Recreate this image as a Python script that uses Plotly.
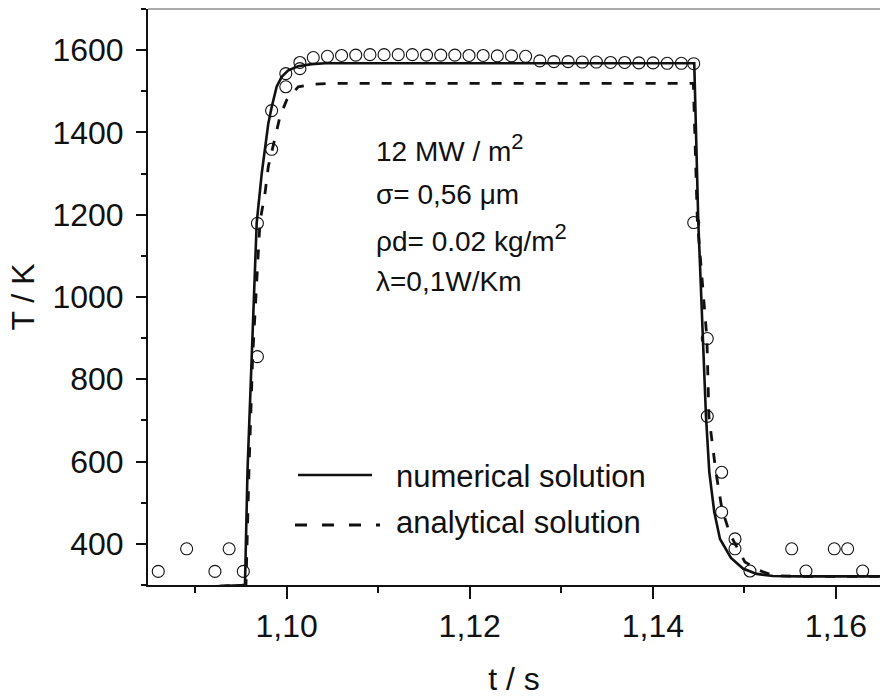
import plotly.graph_objects as go

# Numerical solution (solid curve): time in s, temperature in K
t_num = [1.0854, 1.09545, 1.09573, 1.09618, 1.09673, 1.09728, 1.09800, 1.09837,
         1.09891, 1.09946, 1.10018, 1.10127, 1.10274, 1.10419, 1.14452,
         1.14496, 1.14550, 1.14580, 1.14616, 1.14670, 1.14733, 1.14853,
         1.14984, 1.15133, 1.15311, 1.15606, 1.1660]
T_num = [290, 300, 580, 855, 1180, 1300, 1422, 1462,
         1511, 1535, 1551, 1561, 1566, 1568, 1568,
         1183, 900, 710, 575, 478, 412, 366,
         340, 327, 322, 321, 321]

# Analytical solution (dashed curve)
t_ana = [1.0855, 1.09556, 1.09589, 1.09629, 1.09709, 1.09764, 1.09800, 1.09865,
         1.09928, 1.10001, 1.10127, 1.10277, 1.10450, 1.14442,
         1.14486, 1.14590, 1.14612, 1.14688, 1.14754, 1.14841, 1.15005,
         1.15169, 1.15311, 1.15606, 1.1660]
T_ana = [290, 300, 580, 855, 1183, 1252, 1317, 1382,
         1439, 1479, 1511, 1517, 1519, 1519,
         1183, 900, 710, 575, 485, 424, 356,
         335, 323, 321, 321]

# Measured temperatures (open circles)
t_meas = [1.08598, 1.08908, 1.09217, 1.09372, 1.09527,
          1.09681, 1.09681, 1.09836, 1.09836, 1.09991, 1.09991, 1.10145, 1.10145,
          1.10291, 1.10446, 1.10600, 1.10755, 1.10910, 1.11064, 1.11219, 1.11373,
          1.11528, 1.11683, 1.11837, 1.11992, 1.12146, 1.12301, 1.12456, 1.12610,
          1.12765, 1.12919, 1.13074, 1.13229, 1.13383, 1.13538, 1.13692, 1.13847,
          1.14002, 1.14156, 1.14311, 1.14446,
          1.14446, 1.14594, 1.14594, 1.14751, 1.14751, 1.14897, 1.14897,
          1.15060, 1.15516, 1.15672, 1.15981, 1.16127, 1.16291]
T_meas = [333, 388, 333, 388, 333,
          855, 1179, 1359, 1453, 1511, 1543, 1555, 1570,
          1582, 1585, 1587, 1588, 1589, 1589, 1589, 1589,
          1588, 1588, 1588, 1587, 1587, 1586, 1586, 1585,
          1574, 1572, 1572, 1571, 1571, 1570, 1570, 1569,
          1569, 1568, 1568, 1567,
          1181, 899, 710, 574, 477, 412, 388,
          334, 388, 334, 388, 388, 334]

x_tickvals = [1.10, 1.12, 1.14, 1.16]
x_ticktext = ["1,10", "1,12", "1,14", "1,16"]
x_minorvals = [1.09, 1.11, 1.13, 1.15]

FONT = "Liberation Sans, Arial, sans-serif"
INK = "#111111"

fig = go.Figure()
fig.add_trace(go.Scatter(x=t_num, y=T_num, mode="lines", name="numerical solution",
                         line=dict(color=INK, width=2.6), showlegend=False))
fig.add_trace(go.Scatter(x=t_ana, y=T_ana, mode="lines", name="analytical solution",
                         line=dict(color=INK, width=2.8, dash="10px,12px"),
                         showlegend=False))
fig.add_trace(go.Scatter(x=t_meas, y=T_meas, mode="markers", name="measurement",
                         marker=dict(symbol="circle-open", size=12,
                                     color=INK, line=dict(width=1.1)),
                         showlegend=False))

# Legend drawn inside the plot: line samples plus labels
fig.add_shape(type="line", xref="paper", yref="paper",
              x0=(298 - 148) / 732, x1=(372 - 148) / 732,
              y0=(585 - 475) / 576, y1=(585 - 475) / 576,
              line=dict(color=INK, width=2.6))
fig.add_shape(type="line", xref="paper", yref="paper",
              x0=(295 - 148) / 732, x1=(380 - 148) / 732,
              y0=(585 - 525) / 576, y1=(585 - 525) / 576,
              line=dict(color=INK, width=2.8, dash="12px,15px"))
# thin frame line along the top
fig.add_shape(type="line", xref="paper", yref="paper", x0=0, x1=1, y0=1, y1=1,
              line=dict(color="#555555", width=1))

def label(text, px, py, size):
    fig.add_annotation(text=text, xref="paper", yref="paper",
                       x=(px - 148) / 732, y=(585 - py) / 576,
                       xanchor="left", yanchor="middle", showarrow=False,
                       font=dict(family=FONT, size=size, color=INK))

SUP2 = "<sup><span style='font-size:22px'>2</span></sup>"
label("numerical solution", 394, 476, 31)
label("analytical solution", 394, 522, 31)
label("12 MW / m" + SUP2, 374, 148, 28)
label("σ= 0,56 μm", 374, 195, 28)
label("ρd= 0.02 kg/m" + SUP2, 374, 238, 28)
label("λ=0,1W/Km", 374, 281, 28)

fig.update_layout(
    width=880, height=697,
    margin=dict(l=148, r=0, t=9, b=112),
    paper_bgcolor="white", plot_bgcolor="white",
    font=dict(family=FONT, size=30, color=INK),
    xaxis=dict(range=[1.08486, 1.164805], showgrid=False, zeroline=False,
               showline=True, linecolor=INK, linewidth=2,
               ticks="outside", ticklen=12, tickwidth=2, tickcolor=INK,
               tickmode="array", tickvals=x_tickvals, ticktext=x_ticktext,
               ticklabelstandoff=0,
               minor=dict(tickmode="array", tickvals=x_minorvals, ticks="outside",
                          ticklen=6, tickwidth=2, tickcolor=INK),
               tickfont=dict(size=32),
               title=dict(text="t / s", font=dict(size=32), standoff=24)),
    yaxis=dict(range=[300, 1700], showgrid=False, zeroline=False,
               showline=True, linecolor=INK, linewidth=2,
               ticks="outside", ticklen=10, tickwidth=2, tickcolor=INK,
               tick0=0, dtick=200, ticklabelstandoff=6,
               minor=dict(dtick=100, ticks="outside", ticklen=5, tickwidth=2,
                          tickcolor=INK),
               tickfont=dict(size=32),
               title=dict(text="T / K", font=dict(size=32), standoff=8)),
)

fig.write_html("out.html")
